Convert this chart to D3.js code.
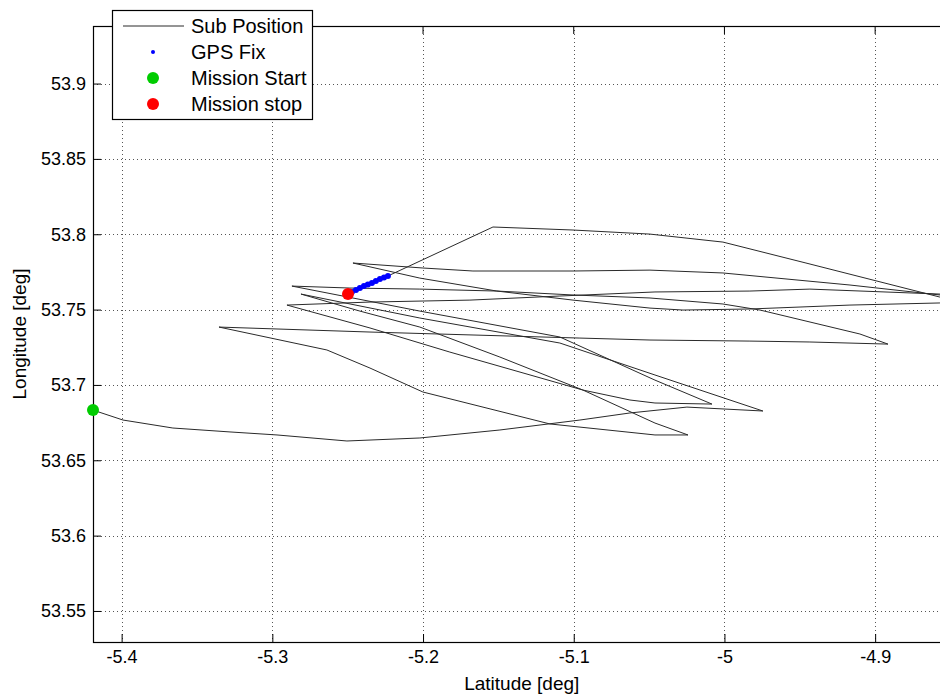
<!DOCTYPE html>
<html>
<head>
<meta charset="utf-8">
<script src="https://cdn.jsdelivr.net/npm/d3@7"></script>
<style>
	body { margin: 0; background: #fff; }
	text { font-family: Arial, "Liberation Sans", Helvetica, sans-serif; fill: #000; }
</style>
</head>
<body>
<svg width="940" height="696"></svg>
<script>

// sub track, one leg per line (lon / lat in degrees)
var subLon = [
	-5.4190, -5.3991, -5.3660, -5.3281, -5.2969, -5.2505, -5.2021, -5.1490, -5.0959, -5.0627, -5.0249, -4.9745,
	-5.0461, -5.1092, -5.2021, -5.2810,
	-5.2419, -5.2021, -5.1490, -5.0939, -5.0461, -5.0242,
	-5.0461, -5.1158, -5.2001, -5.2352, -5.2638, -5.3354,
	-5.2352, -5.0959, -5.0494, -4.9831, -4.9433, -4.8915,
	-4.9101, -4.9764, -5.0010, -5.0494, -5.1005, -5.1510, -5.2021, -5.2465,
	-5.2001, -5.1669, -5.1005, -5.0494, -5.0010, -4.9167, -4.8570, -4.8404,
	-4.8404, -4.8570, -4.9167, -4.9831, -5.0275, -5.0494, -5.1005, -5.1510, -5.2021, -5.2485, -5.2870,
	-5.2021, -5.1092, -5.0461, -5.0083,
	-5.0461, -5.0627, -5.0939, -5.1822, -5.2352, -5.2903,
	-5.2352, -5.1689, -5.1092, -5.0461, -4.9831, -4.9433, -4.8570, -4.8404,
	-4.8404, -4.8570, -4.9459, -5.0010, -5.0494, -5.1005, -5.1536,
	-5.2233
];
var subLat = [
	53.6833, 53.6767, 53.6714, 53.6688, 53.6668, 53.6628, 53.6648, 53.6701, 53.6767, 53.6814, 53.6853, 53.6827,
	53.7066, 53.7278, 53.7444, 53.7603,
	53.7490, 53.7384, 53.7185, 53.6966, 53.6747, 53.6668,
	53.6668, 53.6741, 53.6953, 53.7112, 53.7232, 53.7384,
	53.7351, 53.7311, 53.7298, 53.7291, 53.7285, 53.7271,
	53.7338, 53.7497, 53.7537, 53.7577, 53.7597, 53.7623, 53.7709, 53.7809,
	53.7776, 53.7756, 53.7756, 53.7762, 53.7743, 53.7663, 53.7597, 53.7583,
	53.7550, 53.7544, 53.7530, 53.7504, 53.7497, 53.7510, 53.7563, 53.7623, 53.7636, 53.7643, 53.7656,
	53.7490, 53.7318, 53.7032, 53.6873,
	53.6880, 53.6900, 53.6966, 53.7218, 53.7378, 53.7530,
	53.7550, 53.7563, 53.7590, 53.7617, 53.7623, 53.7636, 53.7603, 53.7590,
	53.7544, 53.7583, 53.7809, 53.7948, 53.8001, 53.8028, 53.8048,
	53.7723
];

var gpsLon = [-5.2498, -5.2472, -5.2445, -5.2419, -5.2392, -5.2366, -5.2339, -5.2313, -5.2286, -5.2259, -5.2233];
var gpsLat = [53.7603, 53.7617, 53.7630, 53.7643, 53.7656, 53.7666, 53.7676, 53.7689, 53.7703, 53.7713, 53.7723];

var missionStart = [-5.4190, 53.6833];
var missionStop = [-5.2498, 53.7603];

var xTicks = [-5.4, -5.3, -5.2, -5.1, -5, -4.9];
var yTicks = [53.55, 53.6, 53.65, 53.7, 53.75, 53.8, 53.85, 53.9];
var legendLabels = ["Sub Position", "GPS Fix", "Mission Start", "Mission stop"];

var svg = d3.select("svg");
var axLeft = 93, axTop = 26, axRight = 950.5, axBottom = 642;

var x = d3.scaleLinear().domain([-5.419, -4.85]).range([axLeft, axRight]);
var y = d3.scaleLinear().domain([53.5294, 53.9382]).range([axBottom, axTop]);

svg.append("defs").append("clipPath").attr("id", "plotclip")
	.append("rect")
	.attr("x", axLeft).attr("y", axTop)
	.attr("width", axRight - axLeft).attr("height", axBottom - axTop);

// dotted grid
var grid = svg.append("g").attr("class", "grid")
	.attr("stroke", "#555")
	.attr("stroke-width", 1)
	.attr("stroke-dasharray", "1,3");
grid.selectAll("line.gx").data(xTicks).enter().append("line")
	.attr("x1", function (d) { return Math.round(x(d)) + 0.5; })
	.attr("x2", function (d) { return Math.round(x(d)) + 0.5; })
	.attr("y1", axTop).attr("y2", axBottom);
grid.selectAll("line.gy").data(yTicks).enter().append("line")
	.attr("y1", function (d) { return Math.round(y(d)) + 0.5; })
	.attr("y2", function (d) { return Math.round(y(d)) + 0.5; })
	.attr("x1", axLeft).attr("x2", axRight);

// axes, ticks inside like matlab
var fmt = function (d) { return String(d); };

var xAxis = svg.append("g")
	.attr("transform", "translate(0," + axBottom + ")")
	.call(d3.axisBottom(x).tickValues(xTicks).tickFormat(fmt).tickSize(-8).tickSizeOuter(0).tickPadding(8));
xAxis.select(".domain").remove();
xAxis.selectAll("text").attr("font-size", 18);

var yAxis = svg.append("g")
	.attr("transform", "translate(" + axLeft + ",0)")
	.call(d3.axisLeft(y).tickValues(yTicks).tickFormat(fmt).tickSize(-8).tickSizeOuter(0).tickPadding(7));
yAxis.select(".domain").remove();
yAxis.selectAll("text").attr("font-size", 18);

svg.selectAll(".tick line").attr("stroke", "#000");

// top ticks
svg.append("g").selectAll("line").data(xTicks).enter().append("line")
	.attr("x1", function (d) { return x(d); })
	.attr("x2", function (d) { return x(d); })
	.attr("y1", axTop).attr("y2", axTop + 8)
	.attr("stroke", "#000");

// box
svg.append("rect")
	.attr("x", axLeft + 0.5).attr("y", axTop + 0.5)
	.attr("width", axRight - axLeft).attr("height", axBottom - axTop)
	.attr("fill", "none")
	.attr("stroke", "#000")
	.attr("stroke-width", 1.2);

// sub position track
var line = d3.line()
	.x(function (d) { return x(d[0]); })
	.y(function (d) { return y(d[1]); });

svg.append("path")
	.datum(d3.zip(subLon, subLat))
	.attr("clip-path", "url(#plotclip)")
	.attr("d", line)
	.attr("fill", "none")
	.attr("stroke", "#2a2a2a")
	.attr("stroke-width", 1);

// gps fixes
svg.append("g").selectAll("circle")
	.data(d3.zip(gpsLon, gpsLat))
	.enter().append("circle")
	.attr("cx", function (d) { return x(d[0]); })
	.attr("cy", function (d) { return y(d[1]); })
	.attr("r", 3)
	.attr("fill", "#0000ff");

svg.append("circle")
	.attr("cx", x(missionStart[0])).attr("cy", y(missionStart[1]))
	.attr("r", 6).attr("fill", "#00cc00");

svg.append("circle")
	.attr("cx", x(missionStop[0])).attr("cy", y(missionStop[1]))
	.attr("r", 6).attr("fill", "#ff0000");

// axis labels
svg.append("text")
	.attr("x", (axLeft + axRight) / 2).attr("y", 690)
	.attr("text-anchor", "middle")
	.attr("font-size", 19)
	.text("Latitude [deg]");

svg.append("text")
	.attr("transform", "translate(26," + (axTop + axBottom) / 2 + ") rotate(-90)")
	.attr("text-anchor", "middle")
	.attr("font-size", 19)
	.text("Longitude [deg]");

// legend
var legend = svg.append("g");
legend.append("rect")
	.attr("x", 112.5).attr("y", 10.5)
	.attr("width", 200).attr("height", 109)
	.attr("fill", "#fff")
	.attr("stroke", "#000")
	.attr("stroke-width", 1.2);

var rowY = function (i) { return 26 + i * 26; };

legend.append("line")
	.attr("x1", 123).attr("x2", 184)
	.attr("y1", rowY(0)).attr("y2", rowY(0))
	.attr("stroke", "#2a2a2a");
legend.append("circle").attr("cx", 153).attr("cy", rowY(1)).attr("r", 2).attr("fill", "#0000ff");
legend.append("circle").attr("cx", 153).attr("cy", rowY(2)).attr("r", 6).attr("fill", "#00cc00");
legend.append("circle").attr("cx", 153).attr("cy", rowY(3)).attr("r", 6).attr("fill", "#ff0000");

legend.selectAll("text").data(legendLabels).enter().append("text")
	.attr("x", 191)
	.attr("y", function (d, i) { return rowY(i); })
	.attr("dy", "0.35em")
	.attr("font-size", 20)
	.text(function (d) { return d; });

</script>
</body>
</html>
